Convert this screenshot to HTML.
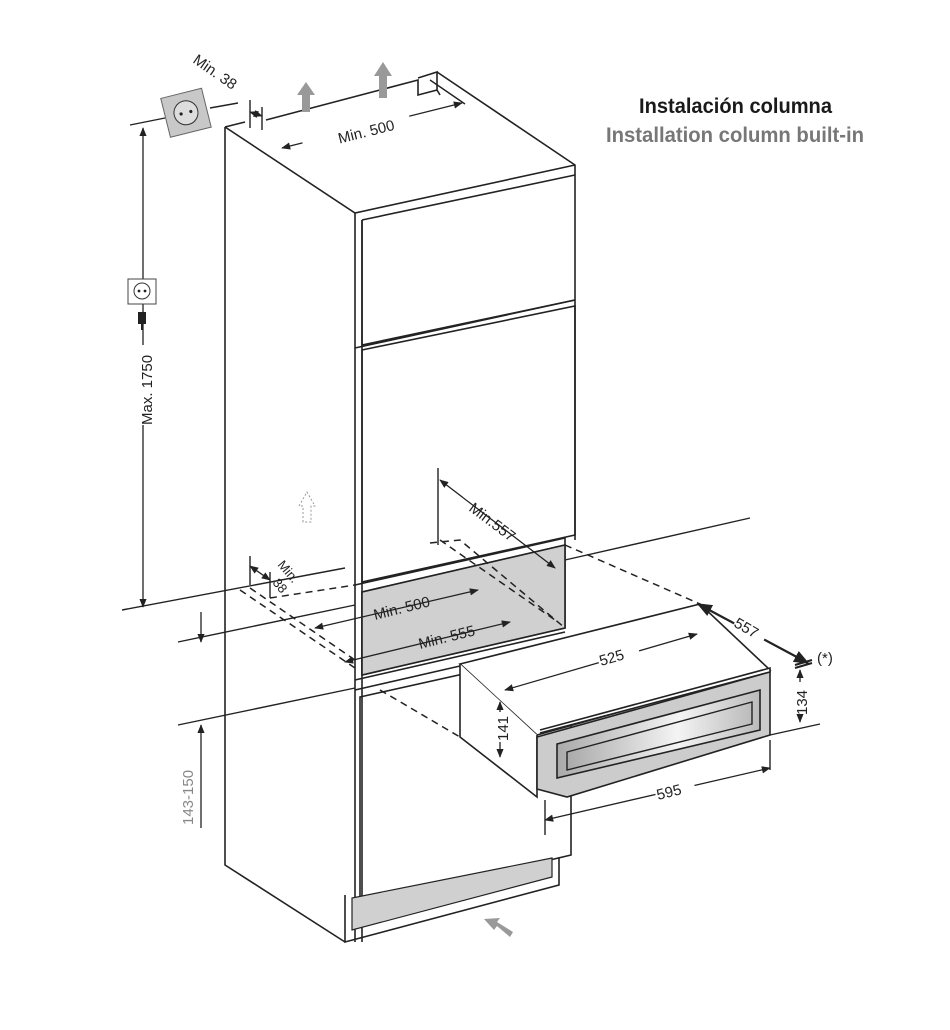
<!DOCTYPE html>
<html><head><meta charset="utf-8"><style>
html,body{margin:0;padding:0;background:#fff;width:950px;height:1030px;overflow:hidden}
svg{display:block}
text{font-family:"Liberation Sans Narrow","Liberation Sans",sans-serif}
</style></head><body>
<svg width="950" height="1030" viewBox="0 0 950 1030" xmlns="http://www.w3.org/2000/svg">
<defs>
<marker id="a" viewBox="0 0 10 10" refX="9" refY="5" markerWidth="7" markerHeight="7" orient="auto-start-reverse"><path d="M0,1 L10,5 L0,9 z" fill="#222"/></marker>
<linearGradient id="g" x1="0" x2="1" y1="0" y2="0"><stop offset="0" stop-color="#aaa"/><stop offset="0.6" stop-color="#f4f4f4"/><stop offset="1" stop-color="#bbb"/></linearGradient>
</defs>
<text x="639" y="113" font-size="21" font-weight="bold" fill="#1a1a1a" textLength="193" lengthAdjust="spacingAndGlyphs">Instalación columna</text>
<text x="606" y="142" font-size="21" font-weight="bold" fill="#777" textLength="258" lengthAdjust="spacingAndGlyphs">Installation column built-in</text>

<g stroke="#222" stroke-width="1.6" fill="none">
<path d="M225,127 L225,865 L345,942"/>
<path d="M225,127 L245,122 M266,120 L418,80 L418,95 L437,90 L437,72 L418,78"/>
<path d="M437,72 L575,165 L575,540"/>
<path d="M225,127 L355,213 L575,165"/>
<path d="M437,90 L440,95"/>
<path d="M355,213 L355,942 M362,220 L362,942"/>
<path d="M362,220 L362,345 L575,300 M362,220 L575,175"/>
<path d="M362,350 L575,306 L575,535 L362,582 Z M355,348 L575,300"/>
<path d="M355,585 L565,538 L565,628 L362,675 L362,592 L565,545"/>
<path d="M355,680 L565,632"/>
<path d="M360,697 L571,650 L571,855 L360,905 Z M355,690 L460,666"/>
<path d="M345,895 L345,942 L559,885 L559,857"/>
</g>
<path d="M362,592 L565,545 L565,628 L362,675 Z" fill="#d0d0d0" stroke="#222" stroke-width="1.6"/>
<path d="M352,898 L352,930 L552,877 L552,858 Z" fill="#d0d0d0" stroke="#222" stroke-width="1.2"/>

<g stroke="#222" stroke-width="1.6" fill="#fff">
<path d="M460,664 L700,604 L770,670 L537,735 Z"/>
<path d="M460,664 L460,737 L537,797 L537,735"/>
<path d="M540,730 L770,668 L770,672 L540,733"/>
</g>
<path d="M537,737 L770,672 L770,735 L567,797 L537,789 Z" fill="#ccc" stroke="#222" stroke-width="1.6"/>
<path d="M557,744 L760,690 L760,730 L557,778 Z" fill="url(#g)" stroke="#222" stroke-width="1.6"/>
<path d="M567,752 L752,702 L752,724 L567,770 Z" fill="url(#g)" stroke="#222" stroke-width="1.4"/>

<g stroke="#222" stroke-width="1.5" fill="none" stroke-dasharray="7,5">
<path d="M240,590 L355,668 M250,588 L355,660 M270,598 L355,585"/>
<path d="M430,543 L460,540 L565,628 M440,540 L555,620 M565,545 L700,604"/>
<path d="M380,690 L460,737"/>
</g>

<g stroke="#222" stroke-width="1.4" fill="none">
<path d="M122,610 L345,568"/>
<path d="M178,642 L355,605 M565,560 L750,518"/>
<path d="M178,725 L355,688"/>
<path d="M770,735 L820,724"/>
<path d="M130,125 L165,118 M210,108 L238,103"/>
<path d="M438,468 L438,545"/>
<path d="M545,800 L545,835 M770,740 L770,770"/>
<path d="M250,556 L250,585 M270,572 L270,598"/>
<path d="M250,100 L250,128 M262,107 L262,130 M430,80 L465,104"/>
</g>

<g stroke="#222" stroke-width="1.3" fill="none" marker-start="url(#a)" marker-end="url(#a)">
<path d="M143,128 L143,607"/>
<path d="M201,612 L201,642" marker-start="none"/>
<path d="M201,725 L201,828" marker-end="none"/>
<path d="M250,112 L262,116"/>
<path d="M282,148 L462,103"/>
<path d="M250,566 L270,580"/>
<path d="M440,480 L555,568"/>
<path d="M315,628 L478,590"/>
<path d="M345,662 L510,622"/>
<path d="M505,690 L697,634"/>
<path d="M698,604 L808,663" stroke-width="2.2"/>
<path d="M500,702 L500,757"/>
<path d="M800,670 L800,722"/>
<path d="M545,820 L770,768"/>
</g>

<g font-family="Liberation Sans,sans-serif" fill="#222" font-size="15">
<rect x="300" y="115" width="110" height="22" fill="#fff" transform="rotate(-14 355 126)"/>
<text x="337" y="137" transform="rotate(-14 365 130)">Min. 500</text>
<text x="192" y="62" transform="rotate(35 192 62)">Min. 38</text>
<rect x="135" y="345" width="16" height="80" fill="#fff"/>
<text x="152" y="425" transform="rotate(-90 152 425)">Max. 1750</text>
<rect x="176" y="735" width="18" height="90" fill="#fff"/>
<text x="193" y="825" transform="rotate(-90 193 825)" fill="#888">143-150</text>
<rect x="462" y="500" width="70" height="20" fill="#fff" transform="rotate(37 497 510)"/>
<text x="468" y="510" transform="rotate(37 468 510)">Min.557</text>
<text x="277" y="565" transform="rotate(50 277 565)" font-size="13">Min.</text>
<text x="272" y="583" transform="rotate(50 272 583)" font-size="13">38</text>
<text x="375" y="620" transform="rotate(-14 375 620)">Min. 500</text>
<text x="420" y="649" transform="rotate(-14 420 649)">Min. 555</text>
<rect x="598" y="648" width="42" height="18" fill="#fff" transform="rotate(-16 619 657)"/>
<text x="601" y="666" transform="rotate(-16 601 666)">525</text>
<rect x="733" y="620" width="34" height="18" fill="#fff" transform="rotate(30 750 630)"/>
<text x="733" y="626" transform="rotate(30 733 626)">557</text>
<text x="817" y="663">(*)</text>
<rect x="790" y="682" width="20" height="32" fill="#fff"/>
<text x="807" y="715" transform="rotate(-90 807 715)">134</text>
<rect x="492" y="712" width="20" height="30" fill="#fff"/>
<text x="508" y="741" transform="rotate(-90 508 741)">141</text>
<rect x="655" y="780" width="40" height="20" fill="#fff" transform="rotate(-14 675 790)"/>
<text x="658" y="800" transform="rotate(-14 658 800)">595</text>
</g>
<path d="M795,665 L812,660 M795,668 L812,663" stroke="#222" stroke-width="2"/>

<g transform="rotate(-14 185 113)">
<rect x="165" y="93" width="42" height="40" fill="#c8c8c8" stroke="#666"/>
<circle cx="186" cy="113" r="12" fill="#ddd" stroke="#333"/>
<circle cx="181" cy="113" r="1.6" fill="#222"/><circle cx="191" cy="113" r="1.6" fill="#222"/>
</g>
<rect x="128" y="279" width="28" height="25" fill="#fff" stroke="#444"/>
<circle cx="142" cy="291" r="8" fill="none" stroke="#333"/>
<circle cx="139" cy="291" r="1.4" fill="#222"/><circle cx="145" cy="291" r="1.4" fill="#222"/>
<rect x="138" y="312" width="8" height="12" fill="#222"/><rect x="141" y="324" width="2" height="6" fill="#222"/>

<path d="M302,112 L302,95 L297,95 L306,82 L315,95 L310,95 L310,112 Z" fill="#999"/>
<path d="M379,98 L379,76 L374,76 L383,62 L392,76 L387,76 L387,98 Z" fill="#999"/>
<path d="M303,522 L303,506 L299,506 L307,492 L315,506 L311,506 L311,522 Z" fill="none" stroke="#999" stroke-dasharray="2,2"/>
<path d="M510,937 L497,926 L494,930 L484,919 L500,918 L497,922 L513,932 Z" fill="#999"/>
</svg>
</body></html>
